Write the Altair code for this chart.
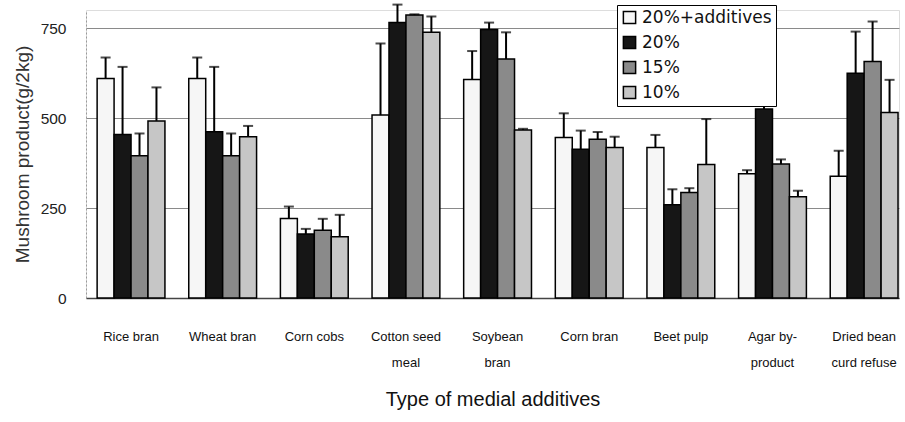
import altair as alt
import pandas as pd

# Media additives (category labels use "|" as a line break)
categories = [
    "Rice bran", "Wheat bran", "Corn cobs", "Cotton seed|meal", "Soybean|bran",
    "Corn bran", "Beet pulp", "Agar by-|product", "Dried bean|curd refuse",
]
series = ["20%+additives", "20%", "15%", "10%"]

# Mean yield and top of the error bar (g/2kg) for each treatment
mean_add = [610, 610, 221, 508, 607, 446, 418, 345, 338]
err_add = [668, 668, 254, 707, 686, 513, 453, 355, 409]
mean_20 = [454, 462, 178, 765, 746, 413, 259, 525, 624]
err_20 = [642, 642, 192, 815, 765, 465, 302, 542, 740]
mean_15 = [395, 395, 188, 786, 664, 441, 293, 372, 657]
err_15 = [457, 457, 220, 788, 738, 461, 305, 385, 768]
mean_10 = [492, 448, 170, 738, 467, 418, 371, 281, 515]
err_10 = [585, 478, 231, 782, 470, 448, 497, 298, 606]

fills = ["#f6f6f6", "#161616", "#8a8a8a", "#c6c6c6"]

rows = []
for s, means, errs in zip(series, [mean_add, mean_20, mean_15, mean_10],
                          [err_add, err_20, err_15, err_10]):
    for c, m, e in zip(categories, means, errs):
        rows.append({"cat": c, "series": s, "value": m, "err": e})
df = pd.DataFrame(rows)

FONT = "Liberation Sans"

x = alt.X(
    "cat:N", sort=categories,
    scale=alt.Scale(paddingInner=0.26, paddingOuter=0.066, align=0.92),
    axis=alt.Axis(
        title="Type of medial additives", labelAngle=0,
        labelExpr="split(datum.value, '|')", labelLineHeight=26,
        labelFontSize=13, labelFont=FONT, labelColor="#111", labelPadding=32,
        ticks=False, domainColor="#444", domainWidth=1.5,
        titleFontSize=20, titleFont=FONT, titleFontWeight="normal",
        titleColor="#111", titlePadding=20,
    ),
)
xo = alt.XOffset("series:N", sort=series,
                 scale=alt.Scale(paddingInner=0, paddingOuter=0))
y_scale = alt.Scale(domain=[0, 800], nice=False)

bars = alt.Chart(df).mark_bar(stroke="black", strokeWidth=1.5).encode(
    x=x, xOffset=xo,
    y=alt.Y("value:Q", scale=y_scale, axis=alt.Axis(
        values=[0, 250, 500, 750], title="Mushroom product(g/2kg)",
        ticks=False, labelFontSize=15.5, labelFont=FONT, labelColor="#222",
        labelPadding=20, gridColor="#8a8a8a", gridWidth=1,
        domainColor="#9a9a9a", domainDash=[2, 2],
        titleFontSize=19, titleFont=FONT, titleFontWeight="normal",
        titleColor="#333", titlePadding=8,
    )),
    color=alt.Color("series:N", sort=series,
                    scale=alt.Scale(domain=series, range=fills),
                    legend=alt.Legend(
                        title=None, orient="none", legendX=531, legendY=-5,
                        fillColor="white", strokeColor="black", padding=4,
                        symbolType="square", symbolSize=150,
                        symbolStrokeColor="black", symbolStrokeWidth=1.5,
                        labelFontSize=17, labelFont="DejaVu Sans",
                        labelColor="#111", labelLimit=300, rowPadding=6,
                    )),
)

stems = alt.Chart(df).mark_rule(color="black", strokeWidth=2).encode(
    x=x, xOffset=xo,
    y=alt.Y("value:Q", scale=y_scale), y2="err:Q",
)
caps = alt.Chart(df).mark_tick(color="black", thickness=2, size=10,
                               orient="horizontal").encode(
    x=x, xOffset=xo, y=alt.Y("err:Q", scale=y_scale),
)

chart = alt.layer(bars, stems, caps).properties(
    width=813, height=288,
    autosize=alt.AutoSizeParams(type="none"),
    padding={"left": 86, "top": 10, "right": 6, "bottom": 124},
).configure_view(
    stroke="#9a9a9a", strokeDash=[2, 2]
).configure(background="white")

chart.save("out.html", embed_options={"renderer": "svg", "actions": False})
